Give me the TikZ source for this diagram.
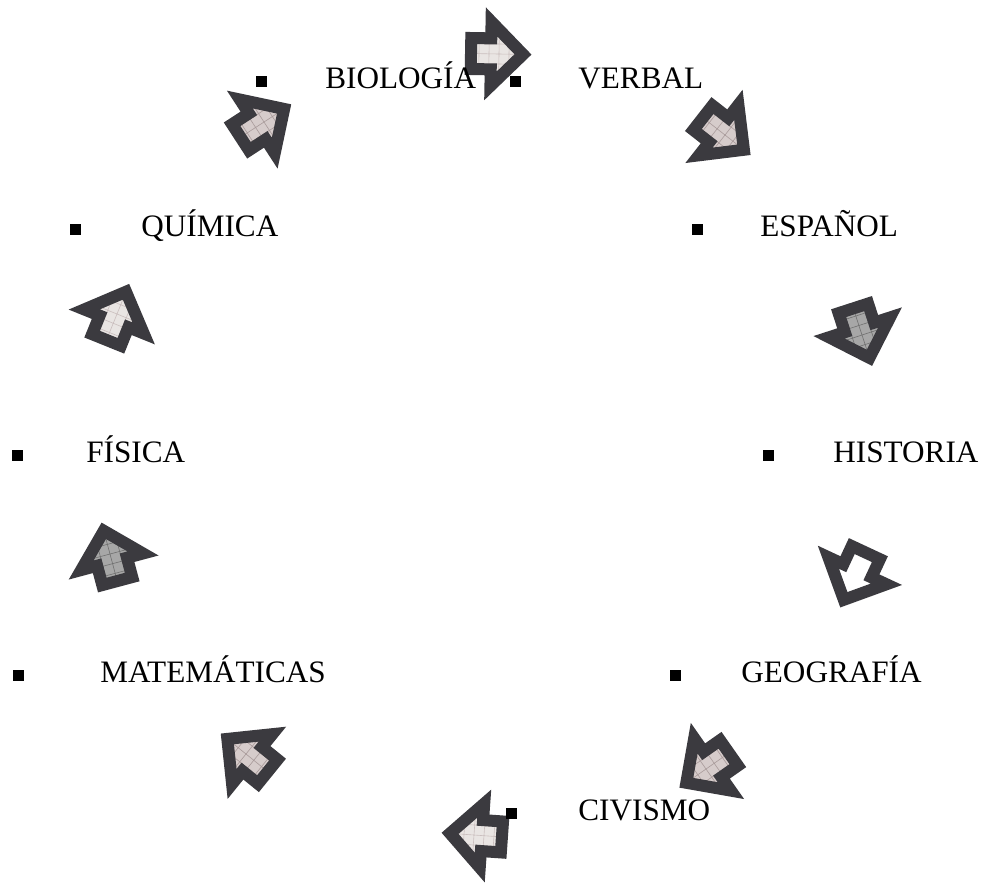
\documentclass[tikz,border=0pt]{standalone}
\usepackage{fontspec}
\setmainfont{Liberation Serif}
\definecolor{LineaClr}{HTML}{3B3A3F}
\definecolor{Claro}{HTML}{E9E5E3}
\definecolor{ClaroG}{HTML}{CABEBE}
\definecolor{Rosa}{HTML}{D6CCCB}
\definecolor{RosaG}{HTML}{A89A9A}
\definecolor{Gris}{HTML}{A7A7A7}
\definecolor{GrisG}{HTML}{707070}
\definecolor{Blanco}{HTML}{FFFFFF}
\definecolor{BlancoG}{HTML}{FFFFFF}

\def\flechapath{(-28,15.5) -- (-8,15.5) -- (-8,32) -- (24,0) -- (-8,-32) -- (-8,-15.5) -- (-28,-15.5) -- cycle}

\tikzset{
  flecha/.pic={
    \begin{scope}
      \clip \flechapath;
      \fill[#1] (-40,-40) rectangle (40,40);
      \draw[#1G,line width=.3pt] (-40,-40) grid[step=5pt] (40,40);
    \end{scope}
    \draw[LineaClr,line width=6pt,line join=miter] \flechapath;
  },
  bala/.style={fill=black,inner sep=0,minimum size=5.5pt},
  etiqueta/.style={anchor=base west,inner sep=0,font=\fontsize{15.6}{18}\selectfont}
}

\begin{document}
\begin{tikzpicture}[x=.5pt,y=-.5pt]
\useasboundingbox (0,0) rectangle (985,885);

\pic[rotate=-1] at (499,54) {flecha=Claro};
\pic[rotate=-38] at (725,135) {flecha=Rosa};
\pic[rotate=-72] at (862,335) {flecha=Gris};
\pic[rotate=-115] at (854,578) {flecha=Blanco};
\pic[rotate=-145] at (706,769) {flecha=Rosa};
\pic[rotate=176] at (474,835) {flecha=Claro};
\pic[rotate=141] at (246,754) {flecha=Rosa};
\pic[rotate=105] at (110,554) {flecha=Gris};
\pic[rotate=68] at (117,314) {flecha=Claro};
\pic[rotate=33] at (264,122) {flecha=Rosa};

\node[bala] (bBio) at (261,81) {};
\node[etiqueta] (tBio) at (325,88) {BIOLOGÍA};
\node[bala] (bVer) at (515,81) {};
\node[etiqueta] (tVer) at (578,88) {VERBAL};
\node[bala] (bQui) at (75,229) {};
\node[etiqueta] (tQui) at (141,236) {QUÍMICA};
\node[bala] (bEsp) at (697,229) {};
\node[etiqueta] (tEsp) at (760,236) {ESPAÑOL};
\node[bala] (bFis) at (17,455) {};
\node[etiqueta] (tFis) at (86,462) {FÍSICA};
\node[bala] (bHis) at (768,455) {};
\node[etiqueta] (tHis) at (833,462) {HISTORIA};
\node[bala] (bMat) at (18,675) {};
\node[etiqueta] (tMat) at (100,682) {MATEMÁTICAS};
\node[bala] (bGeo) at (675,675) {};
\node[etiqueta] (tGeo) at (741,682) {GEOGRAFÍA};
\node[bala] (bCiv) at (511,813) {};
\node[etiqueta] (tCiv) at (578,820) {CIVISMO};

\end{tikzpicture}
\end{document}
